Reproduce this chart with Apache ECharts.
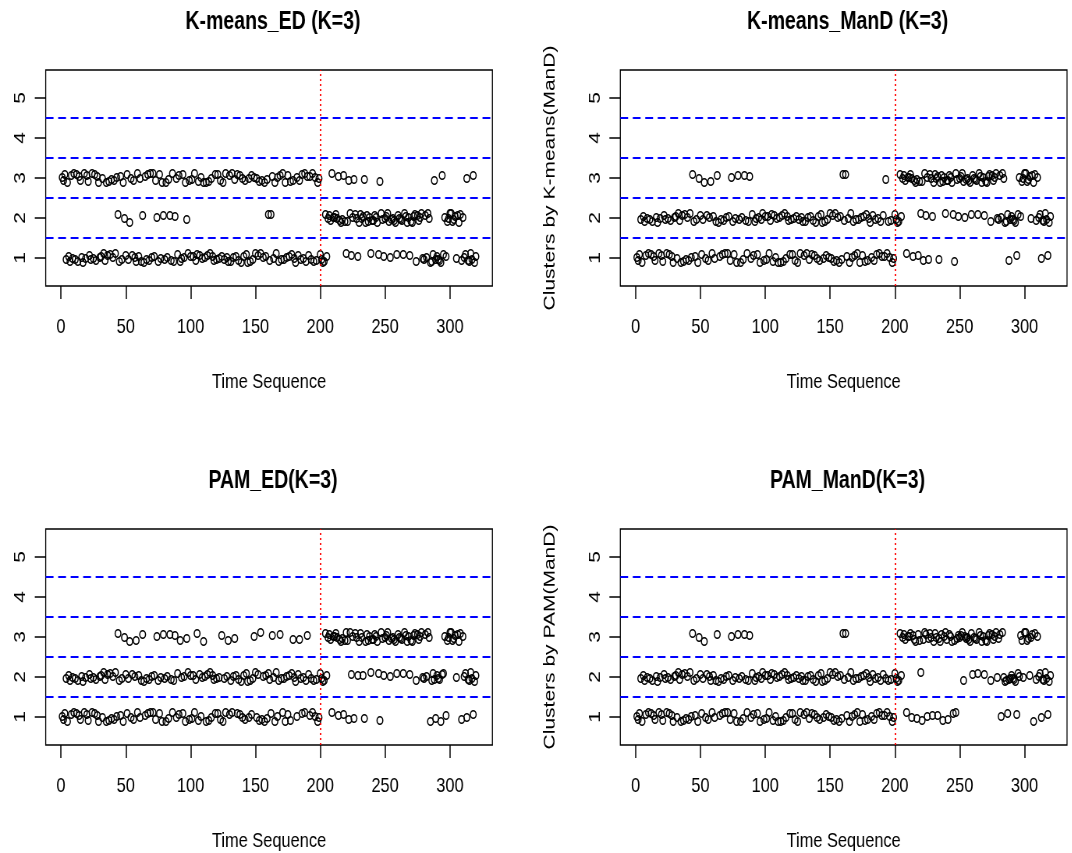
<!DOCTYPE html>
<html>
<head>
<meta charset="utf-8">
<script src="https://cdn.jsdelivr.net/npm/echarts@6/dist/echarts.min.js"></script>
<style>
  html, body { margin: 0; background: #fff; overflow: hidden; }
  #wrap { width: 1072px; height: 853px; overflow: hidden; }
  /* the source png is squeezed horizontally, so draw wider and squeeze the same way */
  #chart { width: 1374px; height: 853px; transform: scaleX(0.78); transform-origin: 0 0; }
</style>
</head>
<body>
<div id="wrap"><div id="chart"></div></div>
<script>
// tick labels and reference lines
const xTicks = [0, 50, 100, 150, 200, 250, 300];
const yTicks = [1, 2, 3, 4, 5];
const clusterCuts = [1.5, 2.5, 3.5, 4.5];
const changePoint = 200;

// cluster label per time step (1..320), written in blocks of 10
const kmeansED = [
  '3331311313', '1313311313', '3113131331', '1311313131', '3132131321',
  '3123131131', '3121313131', '3132131321', '3132131231', '3113132131',
  '3131131313', '1313131131', '3131313113', '1313131313', '1311313131',
  '3131313132', '1231313131', '3131313131', '1313131313', '1313131331',
  '1112122232', '2223222321', '2321232212', '2223222212', '2222132212',
  '2221222212', '2221222212', '2221222211', '2122111311', '1113121222',
  '2222122212', '1131111311'
];
const kmeansManD = [
  '1112122121', '2121122121', '1221212112', '2122121212', '1213212132',
  '1231212312', '1232121212', '1213212132', '1213212312', '1221212212',
  '1212212121', '2121212212', '1212121221', '2121212121', '2122121212',
  '1212121213', '2312121212', '1212121212', '2121212121', '2131212112',
  '2223233313', '3331333132', '3132313323', '3331333323', '3333213323',
  '3332333323', '3332333323', '3332333322', '3233222122', '2221232333',
  '3333233323', '2212222122'
];
const pamED = [
  '1112122121', '2121122121', '1221212112', '2122121212', '1213212132',
  '1231212312', '1232121212', '1213212132', '1213212312', '1321213212',
  '1212312123', '2121212212', '1213121231', '2123212121', '2122121232',
  '1213121212', '2132121232', '1212121232', '2123212123', '2121212112',
  '2223233313', '3331333133', '3132313323', '3321333323', '3333213323',
  '3332333323', '3332333323', '3332333322', '3233122212', '2212231333',
  '3333233313', '2212222122'
];
const pamManD = [
  '1112122121', '2121122121', '1221212112', '2122121212', '1213212132',
  '1231212212', '1232121212', '1213212132', '1213212312', '1221212212',
  '1212212121', '2121212212', '1212121221', '2121212121', '2122121212',
  '1212121213', '2312121212', '1212121212', '2121212121', '2121212112',
  '2223233313', '3313331332', '1333133313', '3313331333', '1333131333',
  '3323333332', '3332333323', '3332333323', '3132221222', '2221223323',
  '3332331323', '2212222122'
];
// vertical jitter, one digit per point (0 = low, 9 = high)
const jitterDigits = [
  '5283061749', '3816250947', '1739482605', '6492071835', '2958163047',
  '8304725196', '4170638295', '9625184073', '0537291648', '7148503926',
  '3692817540', '5071946283', '8426039517', '1953682704', '6280417359',
  '4719250638', '2864095173', '9305761824', '0572384916', '7639152048',
  '3018647295', '5846203719', '1297538460', '8463071592', '2750819364',
  '6915342087', '4328960571', '0681725943', '7594018236', '3207856149',
  '9136470825', '5842193706'
];

// layout in the un-squeezed frame
const S = 0.78;
const W = 446.7 / S, H = 216;
const panels = [
  { title: 'K-means_ED (K=3)', labels: kmeansED, yName: '', left: 45.7 / S, top: 70 },
  { title: 'K-means_ManD (K=3)', labels: kmeansManD, yName: 'Clusters by K-means(ManD)', left: 620.3 / S, top: 70 },
  { title: 'PAM_ED(K=3)', labels: pamED, yName: '', left: 45.7 / S, top: 529 },
  { title: 'PAM_ManD(K=3)', labels: pamManD, yName: 'Clusters by PAM(ManD)', left: 620.3 / S, top: 529 }
];

const font = "'Liberation Sans', Arial, sans-serif";
const jit = jitterDigits.join('');

function points(blocks) {
  const s = blocks.join('');
  const out = [];
  for (let i = 0; i < s.length; i++) {
    out.push([i + 1, Number(s[i]) + (Number(jit[i]) - 4.5) * 0.025]);
  }
  return out;
}

const chart = echarts.init(document.getElementById('chart'));

chart.setOption({
  animation: false,
  backgroundColor: '#fff',
  title: panels.map(p => ({
    text: p.title,
    left: p.left + W / 2,
    top: p.top - 65,
    textAlign: 'center',
    textStyle: { fontFamily: font, fontWeight: 'bold', fontSize: 25, color: '#000' }
  })),
  grid: panels.map(p => ({
    left: p.left, top: p.top, width: W, height: H,
    show: true, borderColor: '#000', borderWidth: 1.3
  })),
  xAxis: panels.map((p, k) => ({
    gridIndex: k,
    type: 'value',
    min: -11.76,
    max: 332.76,
    axisLine: { show: false, onZero: false },
    splitLine: { show: false },
    axisTick: { show: true, length: 13, customValues: xTicks, lineStyle: { color: '#000', width: 1.5 } },
    axisLabel: { customValues: xTicks, margin: 31, fontSize: 21, fontFamily: font, color: '#000' },
    name: 'Time Sequence',
    nameLocation: 'middle',
    nameGap: 86,
    nameTextStyle: { fontSize: 21, fontFamily: font, color: '#000' }
  })),
  yAxis: panels.map((p, k) => ({
    gridIndex: k,
    type: 'value',
    min: 0.3,
    max: 5.7,
    axisLine: { show: false, onZero: false },
    splitLine: { show: false },
    axisTick: { show: true, length: 14, customValues: yTicks, lineStyle: { color: '#000', width: 1.5 } },
    axisLabel: { customValues: yTicks, rotate: 90, margin: 22, fontSize: 21, fontFamily: font, color: '#000' },
    name: p.yName,
    nameLocation: 'middle',
    nameGap: 80,
    nameTextStyle: { fontSize: 21, fontFamily: font, color: '#000' }
  })),
  series: panels.map((p, k) => ({
    type: 'scatter',
    xAxisIndex: k,
    yAxisIndex: k,
    data: points(p.labels),
    symbol: 'circle',
    symbolSize: 7.4,
    itemStyle: { color: 'transparent', borderColor: '#000', borderWidth: 1.5, opacity: 1 },
    emphasis: { disabled: true },
    markLine: {
      silent: true,
      symbol: 'none',
      label: { show: false },
      data: clusterCuts.map(v => ({
        yAxis: v,
        lineStyle: { color: '#0000ff', type: [10, 6], width: 2 }
      })).concat([{
        xAxis: changePoint,
        lineStyle: { color: '#ff0000', type: [2, 3], width: 1.8 }
      }])
    }
  }))
});
</script>
</body>
</html>
